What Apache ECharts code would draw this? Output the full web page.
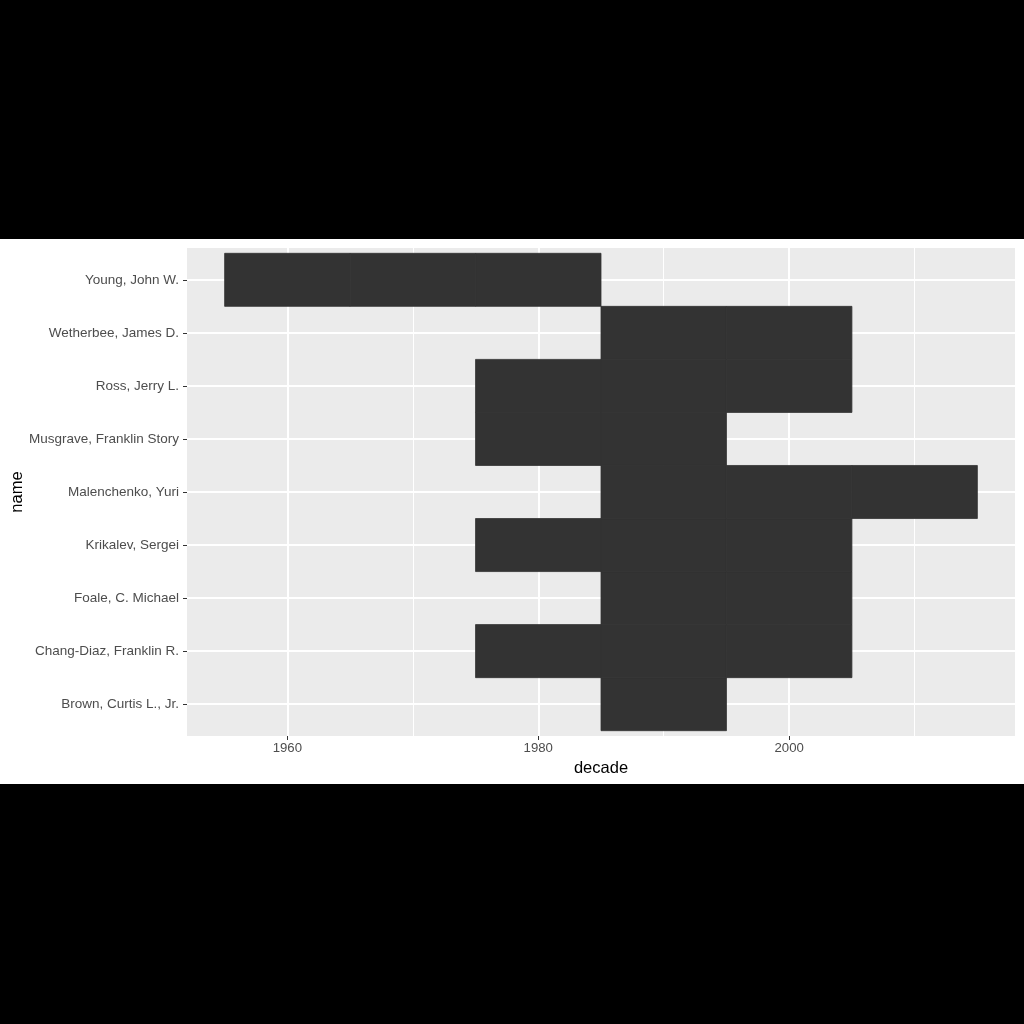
<!DOCTYPE html>
<html>
<head>
<meta charset="utf-8">
<script src="https://cdn.jsdelivr.net/npm/echarts@6/dist/echarts.min.js"></script>
<style>
html,body{margin:0;padding:0;background:#000;width:1024px;height:1024px;overflow:hidden;}
#c{position:absolute;left:0;top:239px;width:1024px;height:545px;background:#fff;}
</style>
</head>
<body>
<div id="c"></div>
<script>
// names, bottom to top
var names = ["Brown, Curtis L., Jr.", "Chang-Diaz, Franklin R.", "Foale, C. Michael", "Krikalev, Sergei",
  "Malenchenko, Yuri", "Musgrave, Franklin Story", "Ross, Jerry L.", "Wetherbee, James D.", "Young, John W."];
// decades flown per astronaut (same order)
var decades = [
  [1990],
  [1980, 1990, 2000],
  [1990, 2000],
  [1980, 1990, 2000],
  [1990, 2000, 2010],
  [1980, 1990],
  [1980, 1990, 2000],
  [1990, 2000],
  [1960, 1970, 1980]
];
var xMajor = [1960, 1980, 2000];
var xMinor = [1970, 1990, 2010];
var yTicks = [1, 2, 3, 4, 5, 6, 7, 8, 9];

var tiles = [];
decades.forEach(function (ds, i) {
  ds.forEach(function (d) { tiles.push([d, i + 1]); });
});

var chart = echarts.init(document.getElementById('c'), null, {renderer: 'canvas'});
var font = 'Liberation Sans, Arial, Helvetica, sans-serif';

function lines(axisKey, vals, width) {
  return vals.map(function (v) {
    var o = {lineStyle: {width: width}};
    o[axisKey] = v;
    return o;
  });
}

chart.setOption({
  animation: false,
  grid: {left: 187, right: 9, top: 9, bottom: 48, show: true, backgroundColor: '#EBEBEB', borderWidth: 0,
    containLabel: false, outerBoundsMode: 'none'},
  xAxis: {
    type: 'value', min: 1952, max: 2018,
    name: 'decade', nameLocation: 'middle', nameGap: 23,
    nameTextStyle: {color: '#000', fontSize: 16.5, fontFamily: font},
    axisLine: {show: false},
    axisTick: {show: true, length: 4, lineStyle: {color: '#333', width: 1}, customValues: xMajor},
    axisLabel: {color: '#4D4D4D', fontSize: 13.2, fontFamily: font, margin: 6, customValues: xMajor,
      formatter: function (v) { return String(v); }},
    splitLine: {show: false}
  },
  yAxis: {
    type: 'value', min: 0.4, max: 9.6,
    name: 'name', nameLocation: 'middle', nameGap: 161, nameRotate: 90, nameMoveOverlap: false,
    nameTextStyle: {color: '#000', fontSize: 16.5, fontFamily: font},
    axisLine: {show: false},
    axisTick: {show: true, length: 4, lineStyle: {color: '#333', width: 1}, customValues: yTicks},
    axisLabel: {color: '#4D4D4D', fontSize: 13.5, fontFamily: font, margin: 8, customValues: yTicks,
      formatter: function (v) { return names[Math.round(v) - 1] || ''; }},
    splitLine: {show: false}
  },
  series: [
    {
      type: 'line', data: [], z: 1, silent: true,
      markLine: {
        z: 1, silent: true, symbol: 'none', label: {show: false}, animation: false,
        lineStyle: {color: '#fff', type: 'solid'},
        emphasis: {disabled: true},
        data: [].concat(lines('xAxis', xMinor, 1), lines('xAxis', xMajor, 2), lines('yAxis', yTicks, 2))
      }
    },
    {
      type: 'custom', z: 10, data: tiles,
      renderItem: function (params, api) {
        var x = api.value(0), y = api.value(1);
        var p = api.coord([x - 5, y + 0.5]);
        var s = api.size([10, 1]);
        return {type: 'rect', shape: {x: p[0], y: p[1], width: s[0], height: s[1]},
          style: {fill: '#333333', stroke: '#333333', lineWidth: 0.8}};
      }
    }
  ]
});
</script>
</body>
</html>
